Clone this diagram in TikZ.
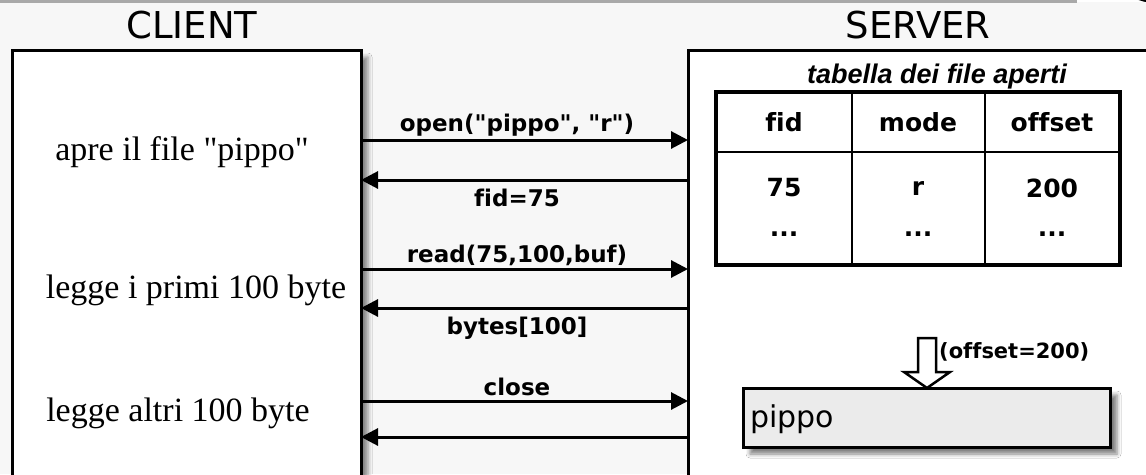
\documentclass[tikz,border=0pt]{standalone}
\usepackage{fontspec}
\setmainfont{Liberation Serif}
\newfontfamily\timesf{Liberation Serif}
\newfontfamily\comicf{DejaVu Sans}[Ligatures=NoCommon]
\newfontfamily\arialf{Liberation Sans}
\usetikzlibrary{arrows.meta,shadows.blur}
\definecolor{bgpage}{HTML}{F7F7F7}
\definecolor{pipfill}{HTML}{EBEBEB}
\definecolor{topband}{HTML}{A9A9A9}

\begin{document}
\begin{tikzpicture}[x=1pt,y=-1pt,
  frame/.style={draw=black,line width=3pt,fill=white,rectangle,inner sep=0pt,outer sep=0pt,
    blur shadow={shadow xshift=7pt,shadow yshift=-7pt,shadow blur radius=4pt,shadow opacity=45}},
  msg/.style={line width=3pt,-{Triangle[length=17pt,width=17pt]}},
  lbl/.style={font=\comicf\bfseries\fontsize{23}{26}\selectfont,inner sep=0pt},
  side/.style={font=\comicf\fontsize{37}{40}\selectfont,inner sep=0pt},
  act/.style={font=\timesf\fontsize{34}{38}\selectfont,inner sep=0pt},
  cell/.style={font=\comicf\bfseries\fontsize{25}{28}\selectfont,inner sep=0pt},
]
\useasboundingbox (0,0) rectangle (1146,474);
\clip (0,0) rectangle (1146,474);
\fill[bgpage] (0,0) rectangle (1146,474);
\fill[topband] (0,0) rectangle (1077,3);
\fill[white] (1077,0) rectangle (1146,2);
\draw[line width=2.5pt] (1150,-28) circle (29);

% the two hosts
\node[frame,anchor=north west,minimum width=349,minimum height=450] (client) at (12,50) {};
\node[frame,anchor=north west,minimum width=500,minimum height=450] (server) at (688,50) {};
\node[side] (clientlbl) at (192,25) {CLIENT};
\node[side] (serverlbl) at (918,25) {SERVER};

% what the client does
\node[act] (a1) at (182,152) {apre il file "pippo"};
\node[act] (a2) at (196,290) {legge i primi 100 byte};
\node[act] (a3) at (178,413) {legge altri 100 byte};

% message rows
\coordinate (r1) at (0,140);
\coordinate (r2) at (0,180);
\coordinate (r3) at (0,269);
\coordinate (r4) at (0,308);
\coordinate (r5) at (0,401);
\coordinate (r6) at (0,437);

\draw[msg] (client.east |- r1) -- (server.west |- r1);
\draw[msg] (server.west |- r2) -- (client.east |- r2);
\draw[msg] (client.east |- r3) -- (server.west |- r3);
\draw[msg] (server.west |- r4) -- (client.east |- r4);
\draw[msg] (client.east |- r5) -- (server.west |- r5);
\draw[msg] (server.west |- r6) -- (client.east |- r6);

\node[lbl] (m1) at (517,125) {open("pippo", "r")};
\node[lbl] (m2) at (517,198) {fid=75};
\node[lbl] (m3) at (517,255) {read(75,100,buf)};
\node[lbl] (m4) at (517,328) {bytes[100]};
\node[lbl] (m5) at (517,387) {close};

% open file table
\node[font=\arialf\bfseries\itshape\fontsize{27}{30}\selectfont,inner sep=0pt] (tcap) at (937,77) {tabella dei file aperti};
\node[draw=black,line width=4pt,fill=white,inner sep=0pt,outer sep=0pt,anchor=north west,
  minimum width=404,minimum height=173] (tbl) at (716,92) {};
\draw[line width=2pt] (tbl.west |- 0,152) -- (tbl.east |- 0,152);
\draw[line width=2pt] (852,92) -- (852,265);
\draw[line width=2pt] (985,92) -- (985,265);
\node[cell] (h1) at (784,122) {fid};
\node[cell] (h2) at (918,122) {mode};
\node[cell] (h3) at (1052,122) {offset};
\node[cell] (c1) at (784,188) {75};
\node[cell] (c2) at (918,188) {r};
\node[cell] (c3) at (1052,188) {200};
\node[cell] (d1) at (784,234) {...};
\node[cell] (d2) at (918,234) {...};
\node[cell] (d3) at (1052,234) {...};

% the file and its current offset
\node[draw=black,line width=3pt,fill=pipfill,anchor=north west,minimum width=367,minimum height=59,
  inner sep=0pt,outer sep=0pt,
  blur shadow={shadow xshift=7pt,shadow yshift=-7pt,shadow blur radius=4pt,shadow opacity=50}] (pippo) at (743,388) {};
\node[font=\comicf\fontsize{30}{34}\selectfont,anchor=west,inner sep=0pt] (pipname) at (750,419) {pippo};
\draw[line width=2.5pt,fill=white,line join=miter]
  (918,338) -- (936,338) -- (936,372) -- (950,372) -- (pippo.north -| 927,0)
  -- (904,372) -- (918,372) -- cycle;
\node[lbl,anchor=west,font=\comicf\bfseries\fontsize{21}{24}\selectfont] (offlbl) at (939,352) {(offset=200)};
\end{tikzpicture}
\end{document}
